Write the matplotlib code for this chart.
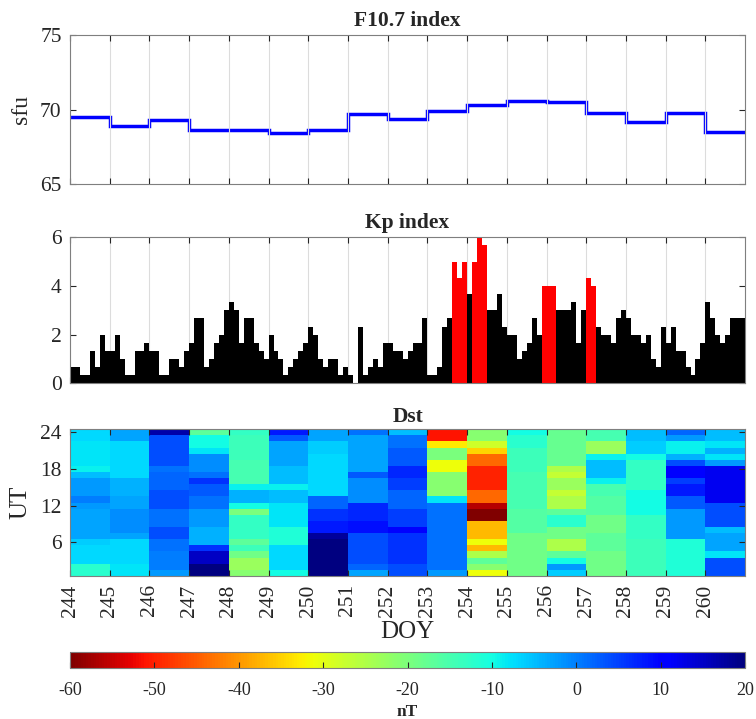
import numpy as np
import matplotlib
matplotlib.use("Agg")
import matplotlib.pyplot as plt

plt.rcParams['font.family'] = ['Liberation Serif', 'DejaVu Serif']
plt.rcParams['axes.unicode_minus'] = False

# day of year
days = np.arange(244, 261)

# F10.7 daily values (sfu)
f107 = [69.5, 68.9, 69.3, 68.6, 68.6, 68.4, 68.6, 69.7, 69.4, 69.9,
        70.3, 70.6, 70.5, 69.8, 69.2, 69.8, 68.5]

# Kp, 8 three-hour values per day
kp_244 = [0.67, 0.67, 0.33, 0.33, 1.33, 0.67, 2.0, 1.33]
kp_245 = [1.33, 2.0, 1.0, 0.33, 0.33, 1.33, 1.33, 1.67]
kp_246 = [1.33, 1.33, 0.33, 0.33, 1.0, 1.0, 0.67, 1.33]
kp_247 = [1.67, 2.67, 2.67, 0.67, 1.0, 1.67, 2.0, 3.0]
kp_248 = [3.33, 3.0, 1.67, 2.67, 2.67, 1.67, 1.33, 1.0]
kp_249 = [2.0, 1.33, 1.0, 0.33, 0.67, 1.0, 1.33, 1.67]
kp_250 = [2.33, 2.0, 1.0, 0.67, 1.0, 1.0, 0.33, 0.67]
kp_251 = [0.33, 0.0, 2.33, 0.33, 0.67, 1.0, 0.67, 1.67]
kp_252 = [1.67, 1.33, 1.33, 1.0, 1.33, 1.67, 1.67, 2.67]
kp_253 = [0.33, 0.33, 0.67, 2.33, 2.67, 5.0, 4.33, 5.0]
kp_254 = [3.67, 5.0, 6.0, 5.67, 3.0, 3.0, 3.67, 2.33]
kp_255 = [2.0, 2.0, 1.0, 1.33, 1.67, 2.67, 2.0, 4.0]
kp_256 = [4.0, 4.0, 3.0, 3.0, 3.0, 3.33, 1.67, 3.0]
kp_257 = [4.33, 4.0, 2.33, 2.0, 2.0, 1.67, 2.67, 3.0]
kp_258 = [2.67, 2.0, 2.0, 1.67, 2.0, 1.0, 0.67, 2.33]
kp_259 = [1.67, 2.33, 1.33, 1.33, 0.67, 0.33, 1.0, 1.67]
kp_260 = [3.33, 2.67, 2.0, 1.67, 2.0, 2.67, 2.67, 2.67]

# Dst hourly (nT), UT 1..24 per day
dst_244 = [-12, -12, -7, -7, -7, -6, -3, -3, -3, -3, -3, -2, 0, -2, -2, -2, -5, -9, -8, -8, -8, -8, -7, -7]
dst_245 = [-8, -8, -7, -7, -7, -7, -3, -1, -1, -1, -1, -3, -3, -4, -4, -4, -7, -7, -7, -7, -7, -7, -3, -3]
dst_246 = [-2, 0, 0, 0, 1, 1, 4, 4, 1, 1, 1, 4, 4, 4, 2, 2, 2, 1, 4, 4, 4, 4, 4, 17]
dst_247 = [20, 20, 15, 15, 6, -4, -4, -4, -2, -2, -2, 1, 1, 3, 3, 6, 1, -1, -1, -1, -8, -10, -10, -17]
dst_248 = [-21, -23, -23, -19, -14, -17, -13, -13, -13, -13, -20, -10, -4, -4, -9, -15, -15, -15, -15, -14, -14, -14, -14, -13]
dst_249 = [-10, -7, -7, -7, -7, -11, -11, -11, -8, -8, -8, -8, -5, -5, -9, -5, -5, -5, -3, -3, -3, -3, 3, 8]
dst_250 = [20, 20, 20, 20, 20, 20, 18, 8, 8, 6, 6, 2, 2, -7, -7, -7, -7, -7, -7, -7, -6, -6, -3, -3]
dst_251 = [-3, 2, 4, 4, 4, 4, 4, 9, 9, 7, 7, 7, -1, -1, -1, -1, 3, -3, -3, -3, -3, -3, -3, 1]
dst_252 = [4, 4, 6, 6, 6, 6, 6, 10, 5, 5, 5, 2, 2, 2, 5, 5, 7, 7, 3, 3, 3, 1, 1, -5]
dst_253 = [-2, 1, 1, 1, 1, 1, 1, 1, 1, 1, 1, 1, -8, -21, -21, -21, -21, -31, -31, -20, -20, -33, -51, -51]
dst_254 = [-31, -21, -17, -25, -37, -31, -37, -37, -37, -60, -60, -56, -44, -44, -50, -50, -50, -50, -44, -44, -35, -28, -21, -21]
dst_255 = [-19, -19, -19, -19, -19, -19, -19, -16, -16, -16, -16, -15, -15, -15, -15, -15, -15, -14, -14, -14, -14, -12, -12, -10]
dst_256 = [-6, -2, -10, -17, -25, -25, -19, -19, -12, -12, -17, -25, -25, -27, -23, -23, -27, -25, -18, -18, -18, -18, -18, -18]
dst_257 = [-19, -19, -19, -19, -17, -17, -17, -19, -19, -19, -16, -16, -16, -15, -15, -9, -5, -5, -5, -9, -23, -23, -15, -15]
dst_258 = [-14, -14, -14, -14, -14, -14, -13, -13, -13, -13, -10, -10, -10, -10, -13, -13, -13, -13, -13, -10, -6, -6, -5, -5]
dst_259 = [-11, -11, -11, -11, -11, -11, -2, -2, -2, -2, -2, 3, 3, 8, 8, 5, 10, 10, 4, -4, -9, -9, -2, 2]
dst_260 = [4, 4, 4, -8, -3, -3, -3, -5, 4, 4, 4, 4, 12, 12, 12, 12, 12, 12, -2, -8, -4, -8, -5, -5]

kp = np.concatenate([kp_244, kp_245, kp_246, kp_247, kp_248, kp_249, kp_250, kp_251, kp_252,
                     kp_253, kp_254, kp_255, kp_256, kp_257, kp_258, kp_259, kp_260])
dst = np.array([dst_244, dst_245, dst_246, dst_247, dst_248, dst_249, dst_250, dst_251, dst_252,
                dst_253, dst_254, dst_255, dst_256, dst_257, dst_258, dst_259, dst_260])

txt = '#262626'
edge = '#7f7f7f'
day_edges = np.arange(244, 262)

fig = plt.figure(figsize=(7.56, 7.19), dpi=100)
ax1 = fig.add_axes([0.0926, 0.744, 0.893, 0.207])
ax2 = fig.add_axes([0.0926, 0.467, 0.893, 0.203])
ax3 = fig.add_axes([0.0926, 0.199, 0.893, 0.204])
cax = fig.add_axes([0.0926, 0.071, 0.893, 0.022])

def style(ax):
    ax.set_xlim(244, 261)
    ax.set_xticks(days)
    ax.tick_params(direction='in', top=True, right=True, length=4, colors=txt,
                   labelsize=15.5, width=0.8, pad=6)
    for s in ax.spines.values():
        s.set_color(edge)

# F10.7
ax1.stairs(f107, day_edges, color='blue', lw=2.5, baseline=None)
style(ax1)
ax1.set_ylim(65, 75)
ax1.set_yticks([65, 70, 75])
ax1.set_xticklabels([])
ax1.grid(axis='x', color='#dcdcdc', lw=0.8)
ax1.set_ylabel('sfu', fontsize=17, color=txt, labelpad=6)
ax1.set_title('F10.7 index', fontsize=15.5, fontweight='bold', color=txt, pad=7)

# Kp
kp_x = 244 + np.arange(len(kp)) / 8.0
kp_col = np.where(kp >= 4, 'red', 'black')
ax2.bar(kp_x, kp, width=1 / 8.0, align='edge', color=kp_col, lw=0)
style(ax2)
ax2.set_ylim(0, 6)
ax2.set_yticks([0, 2, 4, 6])
ax2.set_xticklabels([])
ax2.grid(axis='x', color='#dcdcdc', lw=0.8)
ax2.set_axisbelow(True)
ax2.set_title('Kp index', fontsize=15.5, fontweight='bold', color=txt, pad=7)

# Dst
hour_edges = np.arange(0.5, 25.0, 1.0)
mesh = ax3.pcolormesh(day_edges, hour_edges, dst.T, cmap='jet_r', vmin=-60, vmax=20)
style(ax3)
ax3.set_ylim(0.5, 24.5)
ax3.set_yticks([6, 12, 18, 24])
ax3.set_xticklabels([str(d) for d in days], rotation=90)
ax3.set_ylabel('UT', fontsize=18, color=txt, labelpad=6)
ax3.set_xlabel('DOY', fontsize=18, color=txt, labelpad=3)
ax3.set_title('Dst', fontsize=15.5, fontweight='bold', color=txt, pad=5)

cb = fig.colorbar(mesh, cax=cax, orientation='horizontal')
cb.set_ticks(np.arange(-60, 21, 10))
cax.tick_params(direction='in', length=4, colors=txt, labelsize=13, width=0.8, pad=10)
cb.outline.set_edgecolor(edge)
cb.set_label('nT', fontsize=12.5, fontweight='bold', color=txt, labelpad=4)

fig.savefig('out.png', dpi=100)
